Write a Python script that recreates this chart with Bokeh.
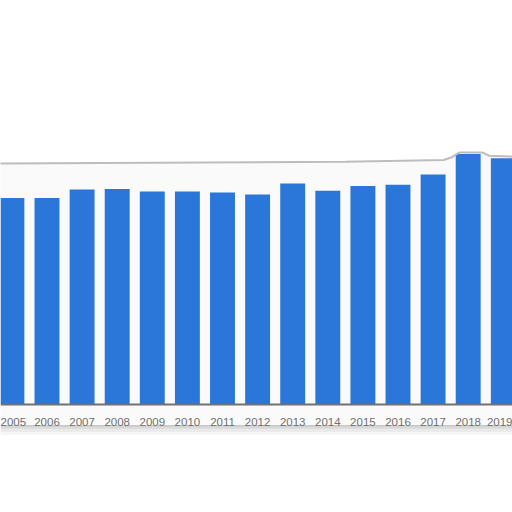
from bokeh.plotting import figure
from bokeh.models import Range1d, FixedTicker
from bokeh.embed import file_html
from bokeh.resources import INLINE

years = [2005, 2006, 2007, 2008, 2009, 2010, 2011, 2012, 2013, 2014, 2015, 2016, 2017, 2018, 2019]
values = [34.1, 34.1, 35.5, 35.6, 35.2, 35.2, 35.0, 34.7, 36.5, 35.3, 36.1, 36.3, 38.0, 41.4, 40.7]
grid_levels = [10, 20, 30]

# torn paper top edge (decoration)
edge_x = [2004.6, 2014.5, 2017.3, 2017.55, 2017.75, 2018.4, 2018.6, 2019.3]
edge_y = [39.8, 40.1, 40.4, 40.9, 41.65, 41.65, 41.1, 40.95]

PX = 6.04  # pixels per unit
x0 = 2005 - 11.4 / 35.1
x1 = x0 + 512 / 35.1

p = figure(width=512, height=512, output_backend="svg", toolbar_location=None,
           x_range=Range1d(x0, x1), y_range=Range1d(-(512 - 403.5) / PX, 403.5 / PX),
           min_border=0, outline_line_color=None)

# paper background
p.varea(x=edge_x, y1=[-3.6] * len(edge_x), y2=edge_y, fill_color="#fafafa")

# bottom shadow
for off, a, w in [(-3.6, 0.45, 1.5), (-3.9, 0.3, 2.5), (-4.3, 0.18, 3), (-4.8, 0.08, 4)]:
    p.line([x0, x1], [off, off], line_color="#8a8a8a", line_alpha=a, line_width=w)

p.vbar(x=years, top=values, width=0.71, bottom=0, fill_color="#2b76d9", line_color=None)

p.line(edge_x, edge_y, line_color="#bdbdbd", line_width=2)

p.xaxis.fixed_location = 0
p.xaxis.ticker = FixedTicker(ticks=years)
p.xaxis.major_tick_line_color = None
p.xaxis.minor_tick_line_color = None
p.xaxis.axis_line_color = "#707070"
p.xaxis.axis_line_width = 2
p.xaxis.major_label_text_font = "Liberation Sans"
p.xaxis.major_label_text_font_size = "11.5px"
p.xaxis.major_label_text_color = "#707070"
p.xaxis.major_label_standoff = 8
p.yaxis.visible = False
p.xgrid.visible = False
p.ygrid.ticker = FixedTicker(ticks=grid_levels)
p.ygrid.grid_line_color = "#d0d0d0"
p.ygrid.grid_line_dash = "1 2"
p.background_fill_color = "white"
p.border_fill_color = "white"

open("out.html", "w").write(file_html(p, INLINE))
